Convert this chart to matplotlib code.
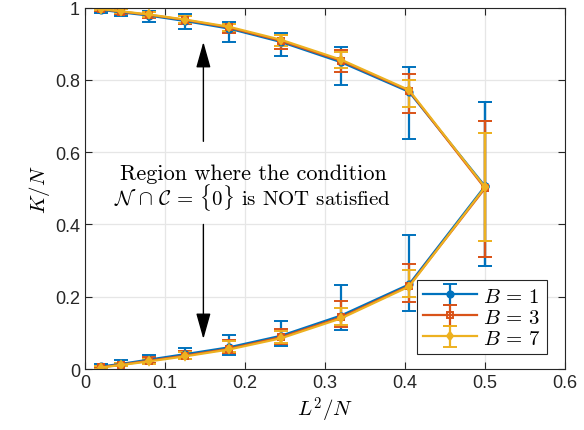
import numpy as np
import matplotlib
matplotlib.use("Agg")
import matplotlib.pyplot as plt

plt.rcParams['font.family'] = ['Liberation Sans', 'DejaVu Sans']
plt.rcParams['mathtext.fontset'] = 'cm'

# L^2/N for L = 2..10, N = 200
x = np.array([0.02, 0.045, 0.08, 0.125, 0.18, 0.245, 0.32, 0.405, 0.5])

# upper branch K/N
up_b1 = np.array([0.994, 0.987, 0.978, 0.963, 0.942, 0.905, 0.849, 0.767, 0.506])
up_b3 = np.array([0.996, 0.989, 0.980, 0.966, 0.945, 0.908, 0.853, 0.770, 0.500])
up_b7 = np.array([0.996, 0.990, 0.981, 0.967, 0.947, 0.911, 0.856, 0.772, 0.503])
# asymmetric errors (lower, upper)
up_b1_lo = np.array([0.009, 0.011, 0.017, 0.021, 0.036, 0.038, 0.063, 0.131, 0.220])
up_b1_hi = np.array([0.004, 0.008, 0.012, 0.018, 0.019, 0.026, 0.043, 0.070, 0.233])
up_b3_lo = np.array([0.004, 0.006, 0.008, 0.012, 0.016, 0.023, 0.032, 0.062, 0.190])
up_b3_hi = np.array([0.003, 0.006, 0.008, 0.010, 0.009, 0.016, 0.030, 0.046, 0.185])
up_b7_lo = np.array([0.003, 0.005, 0.007, 0.010, 0.011, 0.017, 0.024, 0.047, 0.150])
up_b7_hi = np.array([0.003, 0.005, 0.007, 0.009, 0.008, 0.014, 0.020, 0.028, 0.150])

# lower branch K/N
lo_b1 = np.array([0.007, 0.014, 0.026, 0.041, 0.060, 0.092, 0.148, 0.234, 0.506])
lo_b3 = np.array([0.005, 0.012, 0.023, 0.037, 0.056, 0.088, 0.143, 0.230, 0.500])
lo_b7 = np.array([0.004, 0.011, 0.021, 0.035, 0.054, 0.085, 0.140, 0.228, 0.503])
lo_b1_lo = np.array([0.004, 0.006, 0.010, 0.012, 0.021, 0.028, 0.039, 0.073, 0.220])
lo_b1_hi = np.array([0.007, 0.010, 0.014, 0.018, 0.035, 0.042, 0.085, 0.137, 0.233])
lo_b3_lo = np.array([0.003, 0.005, 0.007, 0.010, 0.012, 0.019, 0.027, 0.045, 0.190])
lo_b3_hi = np.array([0.004, 0.006, 0.009, 0.013, 0.025, 0.023, 0.046, 0.060, 0.185])
lo_b7_lo = np.array([0.003, 0.004, 0.006, 0.008, 0.007, 0.013, 0.017, 0.029, 0.150])
lo_b7_hi = np.array([0.003, 0.005, 0.008, 0.011, 0.023, 0.020, 0.029, 0.047, 0.150])

labels = [r'$B\,=\,1$', r'$B\,=\,3$', r'$B\,=\,7$']
colors = ['#0072BD', '#D95319', '#EDB120']
markers = ['o', 's', 'd']

fig = plt.figure(figsize=(5.84, 4.31), dpi=100)
ax = fig.add_axes([0.1455, 0.1415, 0.822, 0.8385])

series = [
    (up_b1, up_b1_lo, up_b1_hi, lo_b1, lo_b1_lo, lo_b1_hi),
    (up_b3, up_b3_lo, up_b3_hi, lo_b3, lo_b3_lo, lo_b3_hi),
    (up_b7, up_b7_lo, up_b7_hi, lo_b7, lo_b7_lo, lo_b7_hi),
]

for i, (u, ul, uh, l, ll, lh) in enumerate(series):
    kw = dict(color=colors[i], marker=markers[i], markersize=4.5, lw=1.6,
              capsize=5, elinewidth=1.6, capthick=1.6,
              markerfacecolor=colors[i] if markers[i] != 's' else 'none',
              markeredgewidth=1.4)
    ax.errorbar(x, u, yerr=[ul, uh], label=labels[i], **kw)
    ax.errorbar(x, l, yerr=[ll, lh], **kw)

# arrows and annotation
astyle = '-|>,head_length=1.6,head_width=0.45'
ax.annotate('', xy=(0.148, 0.905), xytext=(0.148, 0.63),
            arrowprops=dict(arrowstyle=astyle, color='black', lw=1,
                            shrinkA=0, shrinkB=0))
ax.annotate('', xy=(0.148, 0.083), xytext=(0.148, 0.40),
            arrowprops=dict(arrowstyle=astyle, color='black', lw=1,
                            shrinkA=0, shrinkB=0))
ax.text(0.21, 0.543, 'Region where the condition', ha='center', va='center',
        fontsize=16, family='cmr10')
ax.text(0.21, 0.476,
        r'$\mathcal{N}\,\cap\,\mathcal{C}\,=\,\{\mathbf{0}\}$ is NOT satisfied',
        ha='center', va='center', fontsize=15, family='cmr10')

ax.set_xlim(0, 0.6)
ax.set_ylim(0, 1)
ax.set_xticks(np.arange(0, 0.61, 0.1))
ax.set_xticklabels(['0', '0.1', '0.2', '0.3', '0.4', '0.5', '0.6'])
ax.set_yticks(np.arange(0, 1.01, 0.2))
ax.set_yticklabels(['0', '0.2', '0.4', '0.6', '0.8', '1'])
ax.tick_params(direction='in', top=True, right=True, labelsize=13, length=5,
               color='#262626', labelcolor='#262626')
ax.grid(True, color='#e6e6e6', lw=0.9)
ax.set_axisbelow(True)
for s in ax.spines.values():
    s.set_color('#262626')
    s.set_linewidth(0.8)

ax.set_xlabel('$L^2/N$', fontsize=15, labelpad=3)
ax.set_ylabel('$K/N$', fontsize=15, labelpad=2)

leg = ax.legend(loc='lower right', fontsize=15, fancybox=False, framealpha=1,
                edgecolor='#262626', borderpad=0.3, labelspacing=0.1,
                handlelength=2.6, handletextpad=0.3, borderaxespad=0,
                bbox_to_anchor=(0.9625, 0.0415))
leg.get_frame().set_linewidth(0.8)

fig.savefig('out.png', dpi=100)
